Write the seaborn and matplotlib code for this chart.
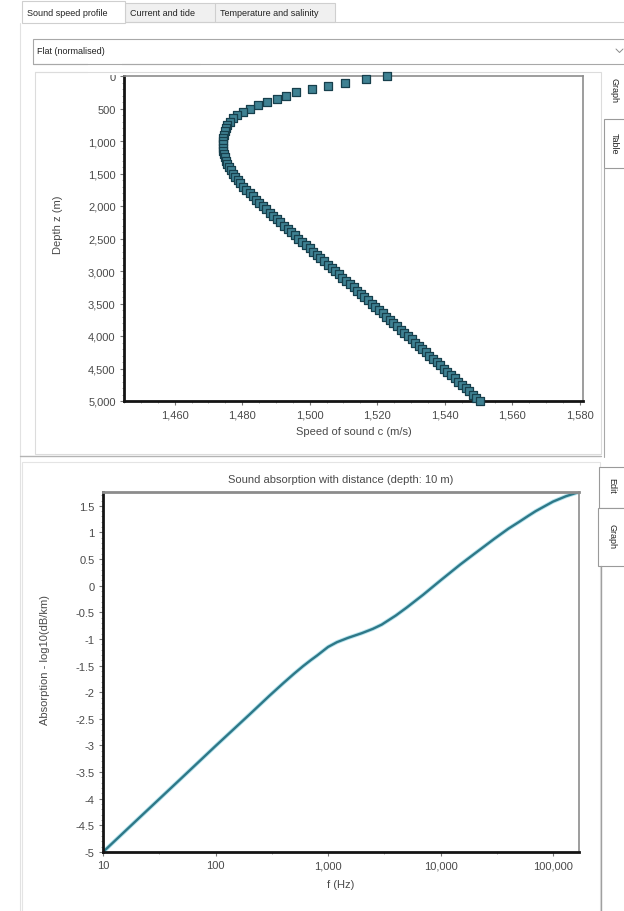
import matplotlib
matplotlib.use("Agg")
import matplotlib.pyplot as plt
import matplotlib.patheffects as pe
import pandas as pd
import seaborn as sns
from matplotlib.patches import Rectangle
from matplotlib.lines import Line2D
from matplotlib.transforms import Affine2D
from matplotlib.ticker import MultipleLocator, FixedLocator, FuncFormatter, NullFormatter

# --- sound speed profile (50 m steps) ---
depth_m = [
    0, 50, 100, 150, 200, 250, 300, 350, 400, 450,
    500, 550, 600, 650, 700, 750, 800, 850, 900, 950,
    1000, 1050, 1100, 1150, 1200, 1250, 1300, 1350, 1400, 1450,
    1500, 1550, 1600, 1650, 1700, 1750, 1800, 1850, 1900, 1950,
    2000, 2050, 2100, 2150, 2200, 2250, 2300, 2350, 2400, 2450,
    2500, 2550, 2600, 2650, 2700, 2750, 2800, 2850, 2900, 2950,
    3000, 3050, 3100, 3150, 3200, 3250, 3300, 3350, 3400, 3450,
    3500, 3550, 3600, 3650, 3700, 3750, 3800, 3850, 3900, 3950,
    4000, 4050, 4100, 4150, 4200, 4250, 4300, 4350, 4400, 4450,
    4500, 4550, 4600, 4650, 4700, 4750, 4800, 4850, 4900, 4950,
    5000,
]
speed_ms = [
    1522.8, 1516.6, 1510.4, 1505.3, 1500.6, 1496.1, 1493.0, 1490.2, 1487.4, 1484.8,
    1482.4, 1480.3, 1478.5, 1477.2, 1476.3, 1475.6, 1475.1, 1474.8, 1474.6, 1474.4,
    1474.3, 1474.2, 1474.2, 1474.3, 1474.5, 1474.8, 1475.1, 1475.5, 1476.0, 1476.6,
    1477.2, 1477.9, 1478.7, 1479.5, 1480.3, 1481.2, 1482.2, 1483.1, 1484.1, 1485.1,
    1486.1, 1487.1, 1488.2, 1489.2, 1490.3, 1491.3, 1492.4, 1493.5, 1494.6, 1495.7,
    1496.7, 1497.8, 1498.9, 1500.0, 1501.1, 1502.1, 1503.2, 1504.3, 1505.4, 1506.5,
    1507.6, 1508.6, 1509.7, 1510.8, 1511.9, 1513.0, 1514.0, 1515.1, 1516.2, 1517.3,
    1518.4, 1519.4, 1520.5, 1521.6, 1522.7, 1523.7, 1524.8, 1525.9, 1527.0, 1528.0,
    1529.1, 1530.2, 1531.2, 1532.3, 1533.4, 1534.4, 1535.5, 1536.6, 1537.6, 1538.7,
    1539.8, 1540.8, 1541.9, 1543.0, 1544.0, 1545.1, 1546.2, 1547.2, 1548.3, 1549.3,
    1550.4,
]

# --- absorption vs frequency at 10 m depth ---
freq_hz = [10, 20, 50, 100, 200, 300, 400, 500, 600, 700, 800, 1000, 1200,
           1500, 2000, 2500, 3000, 4000, 5000, 7000, 10000, 15000, 20000,
           30000, 40000, 50000, 60000, 70000, 100000, 130000, 170000]
absorption_log = [-5.00, -4.40, -3.61, -3.01, -2.42, -2.07, -1.83, -1.65,
                  -1.51, -1.40, -1.31, -1.15, -1.06, -0.98, -0.89, -0.81,
                  -0.73, -0.56, -0.41, -0.17, 0.10, 0.40, 0.60, 0.88, 1.07,
                  1.20, 1.31, 1.40, 1.58, 1.68, 1.76]

speed_ticks = [1460, 1480, 1500, 1520, 1540, 1560, 1580]
freq_ticks = [10, 100, 1000, 10000, 100000]
freq_minor = [31.6, 316, 3162, 31623]

W, H = 624, 912
TXT = "#4a4a4a"

sns.set_theme(style="white")
plt.rcParams["font.family"] = ["Liberation Sans", "DejaVu Sans"]

fig = plt.figure(figsize=(W / 100, H / 100), dpi=100, facecolor="white")
pix = Affine2D().scale(1 / W, -1 / H).translate(0, 1) + fig.transFigure


def px_axes(left, top, right, bottom):
    return fig.add_axes([left / W, 1 - bottom / H, (right - left) / W, (bottom - top) / H])


def box(x0, y0, x1, y1, fc="none", ec="#d0d0d0", lw=0.8, z=-5):
    fig.add_artist(Rectangle((x0, y0), x1 - x0, y1 - y0, transform=pix,
                             facecolor=fc, edgecolor=ec, linewidth=lw, zorder=z))


def line(xs, ys, c="#c8c8c8", lw=0.8, z=-4):
    fig.add_artist(Line2D(xs, ys, transform=pix, color=c, linewidth=lw, zorder=z))


def label(x, y, s, size=6.5, rot=0, ha="left", color="#222222"):
    fig.text(x, y, s, transform=pix, fontsize=size, rotation=rot,
             ha=ha, va="center", color=color)


def style_axes(ax):
    for side in ["top", "right"]:
        ax.spines[side].set_color("#8c8c8c")
        ax.spines[side].set_linewidth(1.2)
    for side in ["left", "bottom"]:
        ax.spines[side].set_color("#141414")
        ax.spines[side].set_linewidth(2.0)
    ax.tick_params(which="both", direction="out", left=True, bottom=True,
                   top=False, right=False)
    ax.tick_params(which="major", length=3, width=0.8, color="#777777",
                   labelsize=8, labelcolor=TXT, pad=3)
    ax.tick_params(which="minor", length=1.6, width=0.6, color="#9a9a9a")
    ax.grid(False)
    ax.set_facecolor("white")


# ---------------- window decoration ----------------
box(125, 4, 335, 23, fc="#f0f0f0", ec="#cfcfcf")
line([215, 215], [4, 23], c="#cfcfcf")
box(22, 2, 125, 24, fc="white", ec="#cfcfcf", z=-3)
line([125, 624], [23, 23], c="#cfcfcf")
label(27, 13, "Sound speed profile")
label(130, 14, "Current and tide")
label(220, 14, "Temperature and salinity")
line([20, 20], [24, 912], c="#e2e2e2")

box(33, 40, 630, 65, fc="white", ec="#a8a8a8")
label(37, 52, "Flat (normalised)")
line([616, 619.5, 623], [50, 53.5, 50], c="#8a8a8a", lw=0.7)

box(35, 73, 601, 455, fc="white", ec="#dcdcdc")
label(614, 90, "Graph", rot=270, ha="center")
box(604, 120, 626, 169, fc="white", ec="#9a9a9a")
label(614, 144, "Table", rot=270, ha="center")
line([604, 604], [169, 458], c="#a8a8a8")
line([20, 601], [457, 457], c="#b4b4b4", lw=1.0)

box(22, 463, 600, 914, fc="white", ec="#e4e4e4")
box(599, 468, 626, 509, fc="white", ec="#9a9a9a")
label(612, 486, "Edit", rot=270, ha="center")
box(598, 509, 626, 567, fc="white", ec="#9a9a9a")
label(612, 537, "Graph", rot=270, ha="center")
line([601, 601], [567, 912], c="#a0a0a0", lw=1.0)

# ---------------- sound speed profile ----------------
profile = pd.DataFrame({"speed": speed_ms, "depth": depth_m})
ax1 = px_axes(124, 77, 583, 402)
sns.scatterplot(data=profile, x="speed", y="depth", marker="s", s=27,
                color="#3f8192", edgecolor="#173f4c", linewidth=0.9,
                legend=False, clip_on=False, zorder=3, ax=ax1)
ax1.set_xlim(1445, 1581)
ax1.set_ylim(5000, 0)
ax1.xaxis.set_major_locator(FixedLocator(speed_ticks))
ax1.xaxis.set_minor_locator(MultipleLocator(5))
ax1.yaxis.set_major_locator(MultipleLocator(500))
ax1.yaxis.set_minor_locator(MultipleLocator(100))
comma = FuncFormatter(lambda v, _: f"{v:,.0f}")
ax1.xaxis.set_major_formatter(comma)
ax1.yaxis.set_major_formatter(comma)
style_axes(ax1)
ax1.set_xlabel("Speed of sound c (m/s)", fontsize=8, color=TXT)
ax1.set_ylabel("Depth z (m)", fontsize=8, color=TXT)
ax1.xaxis.label.set_va("center")
ax1.yaxis.label.set_va("center")
ax1.xaxis.set_label_coords(0.5, -(432 - 402) / 325)
ax1.yaxis.set_label_coords((58 - 124) / 459, (402 - 225) / 325)

# the "0" label is cut off by the panel edge in the app
box(88, 64, 122, 75.5, fc="white", ec="none", z=10)
line([33, 200], [65, 65], c="#a8a8a8", z=11)
line([35, 122], [73, 73], c="#dcdcdc", z=11)

# ---------------- absorption ----------------
absorb = pd.DataFrame({"f": freq_hz, "a": absorption_log})
ax2 = px_axes(103, 493, 579, 853)
sns.lineplot(data=absorb, x="f", y="a", color="#2e7888", linewidth=1.7,
             path_effects=[pe.Stroke(linewidth=3.0, foreground="#b6e4ee"), pe.Normal()],
             ax=ax2)
ax2.set_xscale("log")
ax2.set_xlim(10, 170000)
ax2.set_ylim(-5, 1.76)
ax2.xaxis.set_major_locator(FixedLocator(freq_ticks))
ax2.xaxis.set_minor_locator(FixedLocator(freq_minor))
ax2.xaxis.set_minor_formatter(NullFormatter())
ax2.xaxis.set_major_formatter(comma)
ax2.yaxis.set_major_locator(MultipleLocator(0.5))
ax2.yaxis.set_minor_locator(MultipleLocator(0.1))
ax2.yaxis.set_major_formatter(FuncFormatter(lambda v, _: f"{round(v, 2) + 0.0:g}"))
style_axes(ax2)
ax2.spines["top"].set_linewidth(2.0)
ax2.set_title("Sound absorption with distance (depth: 10 m)", fontsize=8,
              color=TXT, pad=7)
ax2.set_xlabel("f (Hz)", fontsize=8, color=TXT)
ax2.set_ylabel("Absorption - log10(dB/km)", fontsize=8, color=TXT)
ax2.xaxis.label.set_va("center")
ax2.yaxis.label.set_va("center")
ax2.xaxis.set_label_coords(0.5, -(885 - 853) / 360)
ax2.yaxis.set_label_coords((45 - 103) / 476, (853 - 660) / 360)

fig.savefig("out.png", dpi=100, facecolor="white")
